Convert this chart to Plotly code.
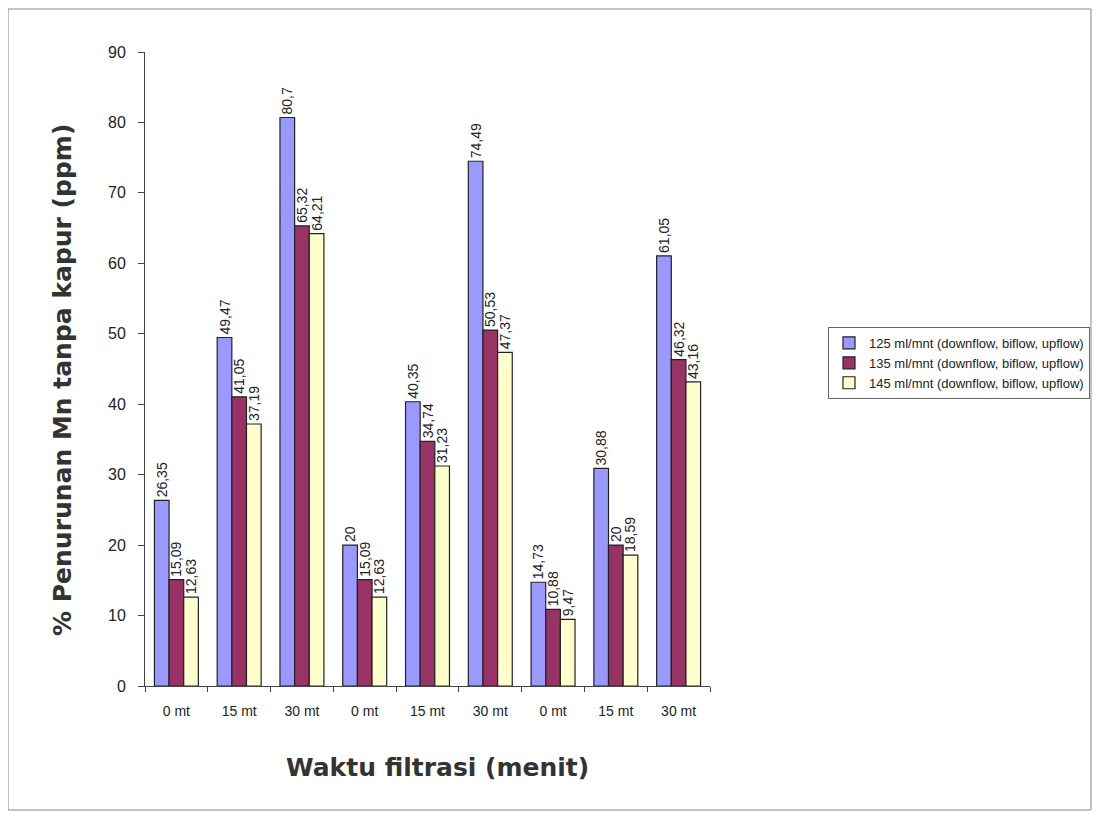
import plotly.graph_objects as go

tick_labels = ["0 mt", "15 mt", "30 mt", "0 mt", "15 mt", "30 mt", "0 mt", "15 mt", "30 mt"]
positions = list(range(len(tick_labels)))

series_names = [
    "125 ml/mnt (downflow, biflow, upflow)",
    "135 ml/mnt (downflow, biflow, upflow)",
    "145 ml/mnt (downflow, biflow, upflow)",
]
s125 = [26.35, 49.47, 80.7, 20, 40.35, 74.49, 14.73, 30.88, 61.05]
s135 = [15.09, 41.05, 65.32, 15.09, 34.74, 50.53, 10.88, 20, 46.32]
s145 = [12.63, 37.19, 64.21, 12.63, 31.23, 47.37, 9.47, 18.59, 43.16]
colors = ["#9999FF", "#993366", "#FFFFCC"]

def fmt(v):
    s = ("%.2f" % v).rstrip("0").rstrip(".")
    return s.replace(".", ",")

fig = go.Figure()
for name, vals, col in zip(series_names, [s125, s135, s145], colors):
    fig.add_trace(go.Bar(
        x=positions, y=vals, name=name,
        marker=dict(color=col, line=dict(color="#222222", width=1.2)),
        text=[fmt(v) for v in vals], textposition="outside", textangle=-90,
        constraintext="none",
        textfont=dict(family="Liberation Sans", size=14, color="#222"),
        cliponaxis=False,
    ))

# figure is 1084x803 so that with the page's 8px body margin it fills 1100x819
W, H = 1084, 803
L, T = 137, 44
R = W - 702
B = H - 678
pw, ph = W - L - R, H - T - B

def px(xs):  # screen x -> paper x
    return (xs - 8 - L) / pw

def py(ys):  # screen y -> paper y
    return (678 - (ys - 8)) / ph

fig.update_layout(
    width=W, height=H,
    margin=dict(l=L, r=R, t=T, b=B, autoexpand=False),
    paper_bgcolor="white", plot_bgcolor="white",
    barmode="group", bargap=0.3, bargroupgap=0,
    font=dict(family="Liberation Sans", size=13, color="#222"),
    showlegend=True,
    legend=dict(
        x=px(828), y=py(327), xanchor="left", yanchor="top",
        bordercolor="#666", borderwidth=1, bgcolor="white",
        font=dict(size=13), itemwidth=30, tracegroupgap=2,
    ),
    xaxis=dict(
        range=[-0.5, 8.5], tickvals=positions, ticktext=tick_labels,
        ticks="", showline=True, linecolor="#444", linewidth=1,
        showgrid=False, zeroline=False, ticklabelstandoff=12,
        minor=dict(tickvals=[p - 0.5 for p in positions] + [8.5], ticks="outside",
                   ticklen=5, tickcolor="#444", showgrid=False),
        tickfont=dict(size=14),
    ),
    yaxis=dict(
        range=[0, 90], dtick=10, ticks="outside", ticklen=6, tickcolor="#444",
        showline=True, linecolor="#444", linewidth=1, showgrid=False, zeroline=False,
        ticklabelstandoff=9,
        tickfont=dict(size=16),
    ),
    annotations=[
        dict(text="<b>% Penurunan Mn tanpa kapur (ppm)</b>", xref="paper", yref="paper",
             x=px(62), y=py(380), xanchor="center", yanchor="middle", textangle=-90,
             showarrow=False, font=dict(size=25, family="DejaVu Sans", color="#333")),
        dict(text="<b>Waktu filtrasi (menit)</b>", xref="paper", yref="paper",
             x=px(437), y=py(767), xanchor="center", yanchor="middle",
             showarrow=False, font=dict(size=25, family="DejaVu Sans", color="#333")),
    ],
    shapes=[dict(
        type="rect", xref="paper", yref="paper",
        x0=-L / pw, x1=(W - 1 - L) / pw,
        y0=-(B - 1) / ph, y1=(ph + T - 1) / ph,
        line=dict(color="#888", width=1),
    )],
)

fig.write_html("out.html")
